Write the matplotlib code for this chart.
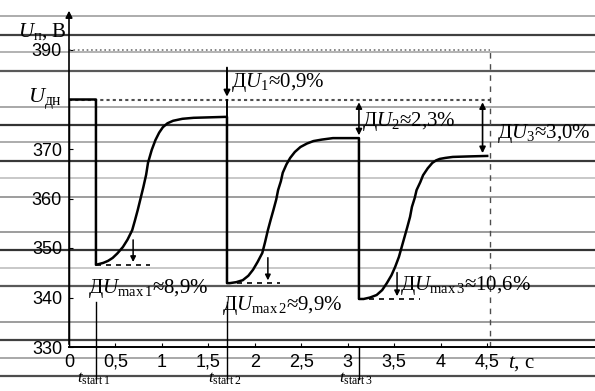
import matplotlib
matplotlib.use("Agg")
import matplotlib.pyplot as plt
from matplotlib.lines import Line2D

plt.rcParams['font.family'] = ['Liberation Serif', 'DejaVu Serif']
plt.rcParams['mathtext.fontset'] = 'custom'
plt.rcParams['mathtext.rm'] = 'Liberation Serif'
plt.rcParams['mathtext.it'] = 'Liberation Serif:italic'
plt.rcParams['mathtext.bf'] = 'Liberation Serif:bold'

# voltage curve (t in s, U in V)
t_curve = [0, 0, 0.29, 0.29, 0.33, 0.37, 0.42, 0.47, 0.52, 0.58, 0.63, 0.68, 0.71, 0.74, 0.77, 0.80,
           0.83, 0.85, 0.89, 0.93, 0.97, 1.01, 1.06, 1.12, 1.22, 1.34, 1.70,
           1.70, 1.73, 1.80, 1.87, 1.93, 1.98, 2.03, 2.08, 2.11, 2.14, 2.17, 2.20, 2.23, 2.25, 2.28,
           2.30, 2.34, 2.38, 2.43, 2.49, 2.56, 2.63, 2.72, 2.84, 3.12,
           3.12, 3.17, 3.24, 3.31, 3.37, 3.42, 3.47, 3.51, 3.55, 3.58, 3.61, 3.64, 3.67, 3.69, 3.72,
           3.74, 3.78, 3.81, 3.86, 3.91, 3.95, 3.99, 4.05, 4.13, 4.30, 4.50]
u_curve = [330, 380, 380, 346.6, 346.8, 347.0, 347.4, 348.0, 348.9, 350.2, 351.7, 353.6, 355.6, 357.7, 360.0, 362.3,
           364.8, 367.2, 369.8, 371.8, 373.3, 374.4, 375.2, 375.7, 376.1, 376.3, 376.5,
           342.9, 342.9, 343.1, 343.5, 344.4, 345.6, 347.2, 349.0, 351.2, 353.6, 355.7, 357.7, 359.8, 361.7, 363.5,
           365.2, 366.9, 368.2, 369.4, 370.4, 371.1, 371.6, 371.9, 372.2, 372.2,
           339.7, 339.7, 340.0, 340.5, 341.5, 342.9, 344.5, 346.2, 348.2, 350.2, 352.2, 354.2, 356.3, 358.3, 360.1,
           361.7, 363.3, 364.7, 366.1, 367.2, 367.7, 368.0, 368.2, 368.4, 368.5, 368.6]

u_nom = 380
t_start = [0.29, 1.70, 3.12]
u_dip = [346.6, 342.9, 339.7]
u_steady = [376.5, 372.2, 368.6]
dip_pct = ['8,9', '9,9', '10,6']
steady_pct = ['0,9', '2,3', '3,0']
t_end = 4.53

xticks = [0, 0.5, 1, 1.5, 2, 2.5, 3, 3.5, 4, 4.5]
xtick_labels = ['0', '0,5', '1', '1,5', '2', '2,5', '3', '3,5', '4', '4,5']
yticks = [330, 340, 350, 360, 370, 390]

# scan lines running across the whole page (pixel row, grey level)
scan_rows = [(16, 0.62), (35, 0.25), (52, 0.65), (71, 0.35), (107, 0.6), (125, 0.2), (142, 0.62),
             (161, 0.22), (178, 0.75), (197, 0.55), (232, 0.55), (250, 0.2), (268, 0.75), (286, 0.35),
             (322, 0.55), (340, 0.25), (358, 0.6), (376, 0.3)]

W, H = 595, 391
fig = plt.figure(figsize=(W / 100, H / 100), dpi=100)
ax = fig.add_axes([69 / W, 44 / H, 526 / W, 336.6 / H])
ax.patch.set_alpha(0)
ax.set_xlim(0, 5.66)
ax.set_ylim(330, 398)

for row, g in scan_rows:
    fig.add_artist(Line2D([0, 1], [1 - row / H, 1 - row / H], transform=fig.transFigure,
                          color=str(g), lw=1.6 if g < 0.4 else 1.2, zorder=0))

for s in ['top', 'right', 'left']:
    ax.spines[s].set_visible(False)
ax.spines['bottom'].set_linewidth(1.4)
ax.annotate('', xy=(0, 398.5), xytext=(0, 330), xycoords='data',
            arrowprops=dict(arrowstyle='-|>', color='black', lw=1.2, mutation_scale=10),
            annotation_clip=False)

ax.set_xticks(xticks)
ax.set_xticklabels(xtick_labels, family='Liberation Sans', fontsize=13)
ax.set_yticks(yticks)
ax.set_yticklabels([str(v) for v in yticks], family='Liberation Sans', fontsize=13)
ax.tick_params(direction='in', length=3, width=0.8, pad=5)

# reference levels
ax.plot([0, t_end], [390, 390], ls=':', color='0.45', lw=1.2)
ax.plot([0, t_end], [u_nom, u_nom], ls=(0, (1.5, 1.5)), color='0.3', lw=1.5)
ax.plot([t_end, t_end], [330, 390], ls=(0, (4, 4)), color='0.3', lw=1.0)

ax.plot(t_curve, u_curve, color='black', lw=1.8, zorder=5, solid_joinstyle='round')

ax.text(-0.08, u_nom, '$U_{\\mathrm{дн}}$', ha='right', va='center', fontsize=16)
ax.text(-0.03, 393.8, '$U_{\\mathrm{п}}$, В', ha='right', va='center', fontsize=15)
ax.text(4.72, 326.7, '$t$, с', ha='left', va='center', fontsize=15)

# start markers under the axis
for i, ts in enumerate(t_start):
    ax.plot([ts, ts], [339.0 if i < 2 else 330, 323.5], color='black', lw=1.0, clip_on=False)
    ax.text(ts - 0.03, 323.6, '$t_{\\mathrm{start}\\,%d}$' % (i + 1), ha='center', va='center',
            fontsize=12, clip_on=False)

# dips
dip_arrow_t = [0.69, 2.14, 3.53]
dip_dash_end = [0.87, 2.27, 3.78]
dip_arrow_top = [352.2, 348.6, 345.6]
dip_text_pos = [(0.20, 341.9), (1.65, 338.3), (3.56, 342.5)]
for i in range(3):
    ax.plot([t_start[i], dip_dash_end[i]], [u_dip[i], u_dip[i]], ls=(0, (3, 3)), color='black', lw=1.2)
    ax.annotate('', xy=(dip_arrow_t[i], u_dip[i]), xytext=(dip_arrow_t[i], dip_arrow_top[i]),
                arrowprops=dict(arrowstyle='-|>', color='black', lw=1.1, mutation_scale=8))
    tx, ty = dip_text_pos[i]
    ax.text(tx, ty, 'Д$U_{\\mathrm{max}\\,%d}$≈%s%%' % (i + 1, dip_pct[i]), ha='left', va='center',
            fontsize=15, zorder=6)

# steady-state deviations
ax.plot([t_start[1], t_start[1]], [u_steady[0], u_nom], color='black', lw=1.4)
ax.annotate('', xy=(t_start[1], u_nom), xytext=(t_start[1], 387.0),
            arrowprops=dict(arrowstyle='-|>', color='black', lw=1.4, mutation_scale=9))
ax.annotate('', xy=(t_start[2], u_nom), xytext=(t_start[2], u_steady[1]),
            arrowprops=dict(arrowstyle='<|-|>', color='black', lw=1.2, mutation_scale=9))
ax.annotate('', xy=(4.45, u_nom), xytext=(4.45, u_steady[2]),
            arrowprops=dict(arrowstyle='<|-|>', color='black', lw=1.2, mutation_scale=9))
steady_text_pos = [(1.74, 383.5), (3.15, 375.5), (4.61, 373.2)]
for i in range(3):
    tx, ty = steady_text_pos[i]
    ax.text(tx, ty, 'Д$U_{%d}$≈%s%%' % (i + 1, steady_pct[i]), ha='left', va='center',
            fontsize=15, zorder=6, clip_on=False)

fig.savefig('out.png', dpi=100)
